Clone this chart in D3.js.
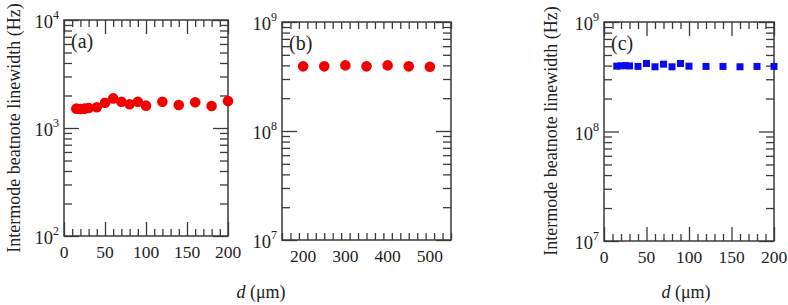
<!DOCTYPE html>
<html>
<head>
<meta charset="utf-8">
<script src="https://cdn.jsdelivr.net/npm/d3@7"></script>
<style>
  body { margin: 0; background: #fff; }
  svg { display: block; }
  text { font-family: "Liberation Serif", "Times New Roman", serif; fill: #222; }
</style>
</head>
<body>
<div id="chart"></div>
<script>
// Panel (a): linewidth vs d, small range.
var dA = [15, 20, 25, 30, 40, 50, 60, 70, 80, 90, 100, 120, 140, 160, 180, 200];
var lwA = [1510, 1500, 1510, 1530, 1555, 1715, 1880, 1750, 1660, 1750, 1610, 1750, 1635, 1730, 1600, 1775];

// Panel (b)
var dB = [200, 250, 300, 350, 400, 450, 500];
var lwB = [3.92e8, 3.92e8, 4.0e8, 3.92e8, 4.0e8, 3.92e8, 3.88e8];

// Panel (c)
var dC = [15, 20, 25, 30, 40, 50, 60, 70, 80, 90, 100, 120, 140, 160, 180, 200];
var lwC = [3.95e8, 3.98e8, 4.0e8, 3.97e8, 3.93e8, 4.18e8, 3.9e8, 4.12e8, 3.9e8, 4.18e8, 3.95e8, 3.93e8, 3.93e8, 3.9e8, 3.93e8, 3.93e8];

// Tick labels.
var xLabelsAC = [0, 50, 100, 150, 200];
var xLabelsB = [200, 300, 400, 500];

var yTitle = 'Intermode beatnote linewidth (Hz)';

var width = 788,
height = 305;

var svg = d3.select('#chart').append('svg').
attr('width', width).
attr('height', height);

var axisColor = '#3a3a3a';

function drawPanel(p) {
  var x = d3.scaleLinear().domain(p.xDomain).range([p.left, p.right]);
  var y = d3.scaleLog().domain(p.yDomain).range([p.bottom, p.top]);
  var g = svg.append('g');

  // Minor / major ticks, all inward, mirrored on every side.
  var xMinor = d3.range(p.xDomain[0], p.xDomain[1] + 0.001, p.xMinor).filter(function (v) {
    return v % p.xMajor !== 0;
  });
  var xMajor = d3.range(p.xDomain[0], p.xDomain[1] + 0.001, p.xMajor).filter(function (v) {
    return v % p.xMajor === 0;
  });
  var yAll = y.ticks();
  var yMajor = yAll.filter(function (v) { return Math.abs(Math.log10(v) - Math.round(Math.log10(v))) < 1e-9; });
  var yMinor = yAll.filter(function (v) { return yMajor.indexOf(v) < 0; });

  function tickAxis(gen, scale, values, size, transform) {
    var a = g.append('g').
    attr('transform', transform).
    call(gen(scale).tickValues(values).tickSizeInner(-size).tickSizeOuter(0).tickFormat(''));
    a.select('.domain').remove();
    a.selectAll('line').attr('stroke', axisColor).attr('stroke-width', 1.3);
  }

  var b = 'translate(0,' + p.bottom + ')',
  t = 'translate(0,' + p.top + ')',
  l = 'translate(' + p.left + ',0)',
  r = 'translate(' + p.right + ',0)';

  tickAxis(d3.axisBottom, x, xMinor, 7, b);
  tickAxis(d3.axisBottom, x, xMajor, 14, b);
  tickAxis(d3.axisTop, x, xMinor, 7, t);
  tickAxis(d3.axisTop, x, xMajor, 14, t);
  tickAxis(d3.axisLeft, y, yMinor, 8, l);
  tickAxis(d3.axisLeft, y, yMajor, 15, l);
  tickAxis(d3.axisRight, y, yMinor, 8, r);
  tickAxis(d3.axisRight, y, yMajor, 15, r);

  g.append('rect').
  attr('x', p.left).
  attr('y', p.top).
  attr('width', p.right - p.left).
  attr('height', p.bottom - p.top).
  attr('fill', 'none').
  attr('stroke', axisColor).
  attr('stroke-width', 1.5);

  // x tick labels
  g.selectAll('.xl').data(p.xLabels).enter().append('text').
  attr('x', function (d) { return x(d); }).
  attr('y', p.bottom + 22).
  attr('text-anchor', 'middle').
  style('font-size', '17.5px').
  text(function (d) { return d; });

  // y tick labels, 10^n
  var yl = g.selectAll('.yl').data(yMajor).enter().append('text').
  attr('x', p.left - 5).
  attr('y', function (d) { return y(d) + 8; }).
  attr('text-anchor', 'end').
  style('font-size', '18.5px');
  yl.append('tspan').text('10');
  yl.append('tspan').
  attr('dy', -9).
  style('font-size', '12px').
  text(function (d) { return Math.round(Math.log10(d)); });

  // Panel letter
  g.append('text').
  attr('x', p.left + 7).
  attr('y', p.top + 28).
  style('font-size', '20px').
  text(p.letter);

  // Markers
  var pts = p.xs.map(function (v, i) { return { x: v, y: p.ys[i] }; });
  if (p.shape === 'circle') {
    g.selectAll('.pt').data(pts).enter().append('circle').
    attr('cx', function (d) { return x(d.x); }).
    attr('cy', function (d) { return y(d.y); }).
    attr('r', 5.3).
    attr('fill', p.color);
  } else {
    g.selectAll('.pt').data(pts).enter().append('rect').
    attr('x', function (d) { return x(d.x) - 3.5; }).
    attr('y', function (d) { return y(d.y) - 3.5; }).
    attr('width', 7).
    attr('height', 7).
    attr('fill', p.color);
  }
}

drawPanel({
  left: 64, right: 228, top: 20, bottom: 236,
  xDomain: [0, 200], xMinor: 10, xMajor: 50, xLabels: xLabelsAC,
  yDomain: [1e2, 1e4], letter: '(a)',
  xs: dA, ys: lwA, shape: 'circle', color: '#f20000'
});

drawPanel({
  left: 282, right: 451, top: 22, bottom: 240,
  xDomain: [150, 550], xMinor: 20, xMajor: 100, xLabels: xLabelsB,
  yDomain: [1e7, 1e9], letter: '(b)',
  xs: dB, ys: lwB, shape: 'circle', color: '#f20000'
});

drawPanel({
  left: 604, right: 774, top: 22, bottom: 241,
  xDomain: [0, 200], xMinor: 10, xMajor: 50, xLabels: xLabelsAC,
  yDomain: [1e7, 1e9], letter: '(c)',
  xs: dC, ys: lwC, shape: 'square', color: '#0a0aee'
});

// Axis titles
function yTitleAt(cx, cy) {
  svg.append('text').
  attr('transform', 'translate(' + cx + ',' + cy + ') rotate(-90)').
  attr('text-anchor', 'middle').
  attr('dy', '0.35em').
  style('font-size', '18px').
  text(yTitle);
}
yTitleAt(14, 128);
yTitleAt(551, 131);

function xTitleAt(cx) {
  var t = svg.append('text').
  attr('x', cx).
  attr('y', 298).
  attr('text-anchor', 'middle').
  style('font-size', '18px');
  t.append('tspan').style('font-style', 'italic').text('d');
  t.append('tspan').text(' (\u03bcm)');
}
xTitleAt(261);
xTitleAt(686);
</script>
</body>
</html>
